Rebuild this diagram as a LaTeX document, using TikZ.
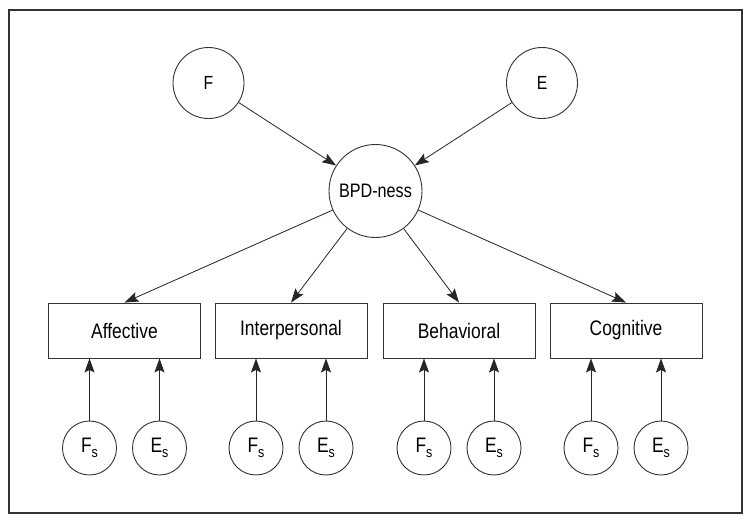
\documentclass[tikz,border=0pt]{standalone}
\usepackage{fontspec}
\setmainfont{Liberation Sans}[FakeStretch=0.83]
\usetikzlibrary{arrows.meta}
\newcommand{\subs}[1]{#1\raisebox{-4.5pt}{\fontsize{15}{15}\selectfont s}}
\begin{document}
\begin{tikzpicture}[x=1pt,y=-1pt,
  circ/.style={draw=black!80, line width=0.9pt, circle, inner sep=0pt, minimum size=#1},
  box/.style={draw=black!80, line width=0.9pt, rectangle, minimum width=152pt, minimum height=55pt, inner sep=0pt, font=\fontsize{21}{22}\selectfont},
  arr/.style={draw=black!85, line width=0.8pt, -{Stealth[length=14pt,width=10pt,inset=2.5pt]}},
  small/.style={circ=54pt, font=\fontsize{21}{21}\selectfont},
]
\useasboundingbox (0,0) rectangle (751,523);
\draw[black!80, line width=2.2pt] (9,10) rectangle (742,513);

\node[circ=71pt, font=\fontsize{19}{19}\selectfont] (F) at (208.5,83) {F};
\node[circ=71pt, font=\fontsize{19}{19}\selectfont] (E) at (542,83) {E};
\node[circ=93pt, font=\fontsize{19.5}{19.5}\selectfont] (B) at (375.5,191) {BPD-ness};

\node[box] (aff) at (124.5,330.5) {Affective};
\node[box] (int) at (291,330.5) {Interpersonal};
\node[box] (beh) at (459,330.5) {Behavioral};
\node[box] (cog) at (626,330.5) {Cognitive};

\draw[arr] (F) -- (B);
\draw[arr] (E) -- (B);
\draw[arr] (B) -- (aff.north);
\draw[arr] (B) -- (int.north);
\draw[arr] (B) -- (beh.north);
\draw[arr] (B) -- (cog.north);

\foreach \n/\bx/\b in {a/124.5/aff, i/291/int, h/459/beh, c/626/cog}{
  \node[small] (f\n) at (\bx-35,448) {\subs{F}};
  \node[small] (e\n) at (\bx+35,448) {\subs{E}};
  \draw[arr] (f\n) -- (f\n |- \b.south);
  \draw[arr] (e\n) -- (e\n |- \b.south);
}
\end{tikzpicture}
\end{document}
